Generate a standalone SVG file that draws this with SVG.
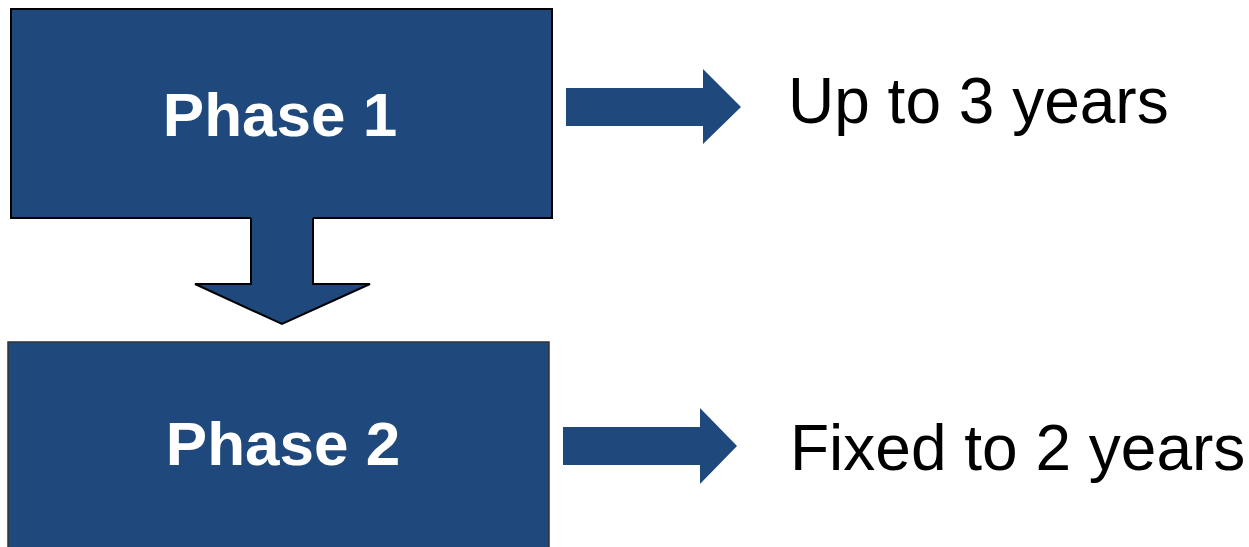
<svg xmlns="http://www.w3.org/2000/svg" width="1249" height="547" viewBox="0 0 1249 547">
  <style>
    .box { fill: #1F497D; stroke: #000; stroke-width: 2; }
    .arrow { fill: #1F497D; stroke: none; }
    .outline { fill: none; stroke: #000; stroke-width: 2; stroke-linejoin: miter; }
    .phase { font-family: "Liberation Sans", Arial, sans-serif; font-weight: bold; font-size: 62px; fill: #fff; text-anchor: middle; }
    .label { font-family: "Liberation Sans", Arial, sans-serif; font-size: 64px; fill: #000; }
  </style>
  <rect width="1249" height="547" fill="#fff"/>
  <g id="phase1">
    <rect class="box" x="11" y="9" width="541" height="209"/>
    <text class="phase" x="280" y="136">Phase 1</text>
  </g>
  <g id="phase2">
    <rect class="box" x="8" y="342" width="541" height="215" style="stroke:#333;stroke-width:1.5"/>
    <text class="phase" x="283" y="465">Phase 2</text>
  </g>
  <g id="label1">
    <text class="label" x="788" y="123">Up to 3 years</text>
  </g>
  <g id="label2">
    <text class="label" x="790" y="470">Fixed to 2 years</text>
  </g>
  <g id="connectors">
    <polygon class="arrow" points="251,216 313,216 313,284 370,284 282,324 195,284 251,284"/>
    <path class="outline" d="M251,218 V284 H195 L282,324 L370,284 H313 V218"/>
    <polygon class="arrow" points="566,88 703,88 703,69 741,107 703,144 703,126 566,126"/>
    <polygon class="arrow" points="563,427 700,427 700,408 737,446 700,484 700,465 563,465"/>
  </g>
</svg>
